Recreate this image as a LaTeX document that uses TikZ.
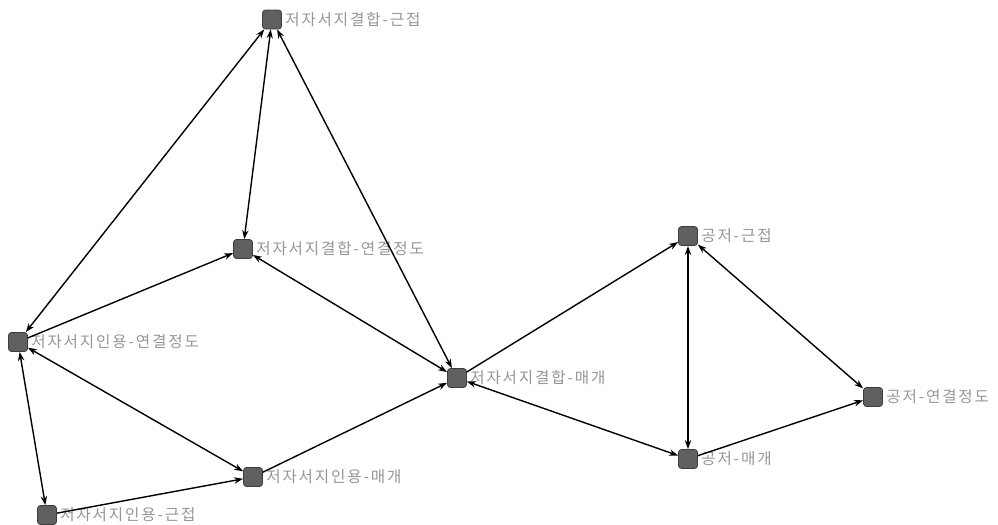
\documentclass[tikz,border=0pt]{standalone}
\usepackage{fontspec}
\newfontfamily\krfont[LetterSpace=12]{Noto Sans CJK KR}
\definecolor{nodegray}{RGB}{96,96,96}
\definecolor{nodeedge}{RGB}{60,60,60}
\definecolor{labelgray}{RGB}{150,150,150}
\usetikzlibrary{arrows.meta,positioning}

\begin{document}
\begin{tikzpicture}[x=0.5pt, y=-0.5pt,
  vertex/.style={draw=nodeedge, fill=nodegray, rounded corners=1.5pt, minimum size=9.5pt, inner sep=0pt, line width=0.4pt},
  vlabel/.style={text=labelgray, font=\krfont\fontsize{7.8pt}{8pt}\selectfont, inner sep=0pt, anchor=west},
  link/.style={line width=0.7pt, -{Stealth[length=4.5pt,width=3.2pt]}},
  blink/.style={line width=0.7pt, {Stealth[length=4.5pt,width=3.2pt]}-{Stealth[length=4.5pt,width=3.2pt]}}]
  \useasboundingbox (0,0) rectangle (998,525);
  % nodes
  \node[vertex] (bcClose) at (272,19.5) {};
  \node[vertex] (bcDeg) at (243,249) {};
  \node[vertex] (ciDeg) at (18,342) {};
  \node[vertex] (bcBtw) at (457,378) {};
  \node[vertex] (ciBtw) at (253,477) {};
  \node[vertex] (ciClose) at (47,515) {};
  \node[vertex] (coClose) at (688,236) {};
  \node[vertex] (coBtw) at (688,459) {};
  \node[vertex] (coDeg) at (873,397) {};
  % labels
  \node[vlabel, right=1.5pt of bcClose] (bcCloseT) {저자서지결합-근접};
  \node[vlabel, right=1.5pt of bcDeg] (bcDegT) {저자서지결합-연결정도};
  \node[vlabel, right=1.5pt of ciDeg] (ciDegT) {저자서지인용-연결정도};
  \node[vlabel, right=1.5pt of bcBtw] (bcBtwT) {저자서지결합-매개};
  \node[vlabel, right=1.5pt of ciBtw] (ciBtwT) {저자서지인용-매개};
  \node[vlabel, right=1.5pt of ciClose] (ciCloseT) {저자서지인용-근접};
  \node[vlabel, right=1.5pt of coClose] (coCloseT) {공저-근접};
  \node[vlabel, right=1.5pt of coBtw] (coBtwT) {공저-매개};
  \node[vlabel, right=1.5pt of coDeg] (coDegT) {공저-연결정도};
  % links
  \draw[blink] (ciDeg) -- (bcClose);
  \draw[blink] (bcDeg) -- (bcClose);
  \draw[blink] (bcBtw) -- (bcClose);
  \draw[link] (ciDeg) -- (bcDeg);
  \draw[blink] (bcDeg) -- (bcBtw);
  \draw[blink] (ciDeg) -- (ciBtw);
  \draw[blink] (ciDeg) -- (ciClose);
  \draw[link] (ciClose) -- (ciBtw);
  \draw[link] (ciBtw) -- (bcBtw);
  \draw[link] (bcBtw) -- (coClose);
  \draw[blink] (bcBtw) -- (coBtw);
  \draw[blink] (coClose) -- (coBtw);
  \draw[blink] (coClose) -- (coDeg);
  \draw[link] (coBtw) -- (coDeg);
\end{tikzpicture}
\end{document}
